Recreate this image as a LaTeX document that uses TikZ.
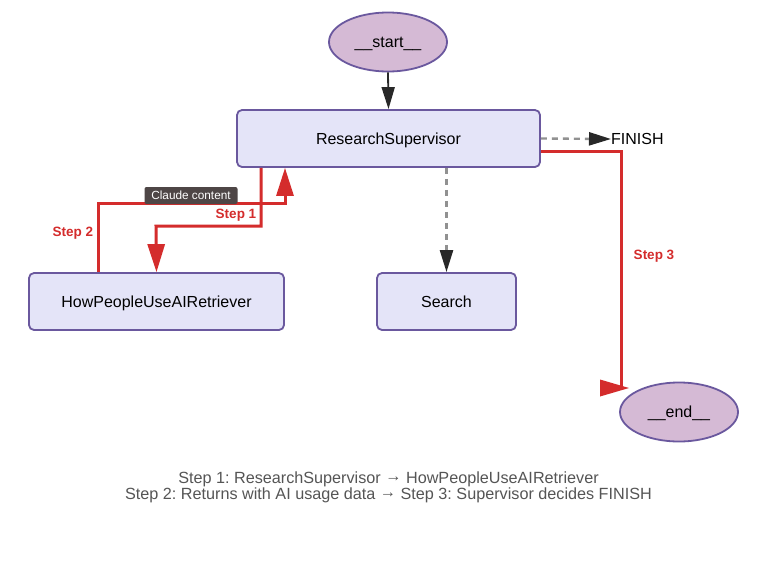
\documentclass[tikz,border=0pt]{standalone}
\usepackage{fontspec}
\setmainfont{Liberation Sans}
\usetikzlibrary{arrows.meta,shapes.geometric}
\frenchspacing
\newcommand{\capto}{\raisebox{1.5pt}{→}}
\definecolor{boxfill}{RGB}{228,228,248}
\definecolor{boxline}{RGB}{106,88,158}
\definecolor{ellfill}{RGB}{213,186,213}
\definecolor{redl}{RGB}{212,44,44}
\definecolor{grayl}{RGB}{145,145,145}
\definecolor{tipdark}{RGB}{40,40,40}
\definecolor{capgray}{RGB}{85,85,85}
\definecolor{tipbox}{RGB}{78,70,70}
\tikzset{
  procbox/.style={draw=boxline, line width=1.8pt, fill=boxfill, rounded corners=5pt, font=\fontsize{16}{18}\selectfont, inner sep=0pt, text height=11.5pt, text depth=0pt},
  termell/.style={ellipse, draw=boxline, line width=1.8pt, fill=ellfill, font=\fontsize{16}{18}\selectfont, inner sep=0pt, minimum width=118pt, minimum height=59pt, text height=11.5pt, text depth=0pt},
  redpath/.style={draw=redl, line width=3pt},
  redtip/.style={-{Triangle[length=28pt,width=17pt]}},
  darkarrow/.style={line width=1.8pt, -{Triangle[length=22pt,width=13pt,color=tipdark]}},
  grayarrow/.style={line width=2.4pt, draw=grayl, dash pattern=on 6pt off 5pt, -{Triangle[length=22pt,width=13pt,color=tipdark]}},
  steplbl/.style={text=redl, font=\bfseries\fontsize{13.5}{15}\selectfont, inner sep=0pt},
}
\begin{document}
\begin{tikzpicture}[x=1pt,y=-1pt]
\useasboundingbox (0,0) rectangle (777,568);
\fill[white] (0,0) rectangle (777,568);
% nodes
\node[termell] (start) at (388,42) {\_\_start\_\_};
\node[procbox, minimum width=303pt, minimum height=57pt] (rs) at (388.5,138.5) {ResearchSupervisor};
\node[procbox, minimum width=255pt, minimum height=57pt] (hp) at (156.5,301.5) {HowPeopleUseAIRetriever};
\node[procbox, minimum width=139pt, minimum height=57pt] (search) at (446.5,301.5) {Search};
\node[termell] (end) at (679,412) {\_\_end\_\_};
\node[anchor=west, inner sep=0pt, font=\fontsize{16}{18}\selectfont, text height=11.5pt, text depth=0pt] (finish) at (611,139) {FINISH};
% black / gray connectors
\draw[darkarrow, draw=tipdark] (start.south) -- (rs.north);
\draw[grayarrow] (rs.east) -- (finish.west);
\draw[grayarrow] (rs.south -| search.north) -- (search.north);
% red paths
\draw[redpath, redtip] (rs.south -| 261,0) |- (156,226) -- (hp.north);
\draw[redpath, redtip] (hp.north -| 98,0) |- (285,203) -- (rs.south -| 285,0);
\coordinate (s3end) at (621,388);
\draw[redpath] (rs.east |- 0,151) -| (s3end);
\fill[redl] (629,388) -- (600,379.5) -- (600,396.5) -- cycle;
% labels
\node[steplbl] (l1) at (236,215) {Step 1};
\node[steplbl] (l2) at (73,233) {Step 2};
\node[steplbl] (l3) at (654,256) {Step 3};
\node[fill=tipbox, rounded corners=2pt, text=white, font=\fontsize{11.8}{13}\selectfont, minimum width=93pt, minimum height=17pt, inner sep=0pt] (cc) at (191,195.5) {Claude content};
% caption
\node[text=capgray, font=\fontsize{16.2}{16}\selectfont, align=center, inner sep=0pt] (cap) at (388.5,487) {Step 1: ResearchSupervisor \capto{} HowPeopleUseAIRetriever\\Step 2: Returns with AI usage data \capto{} Step 3: Supervisor decides FINISH};
\end{tikzpicture}
\end{document}
